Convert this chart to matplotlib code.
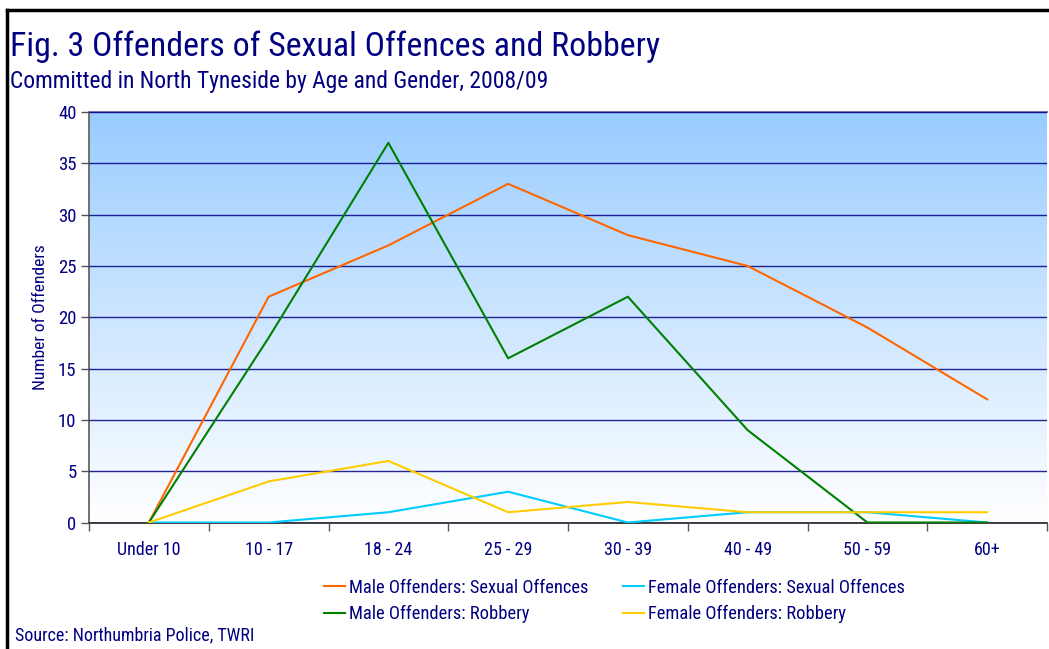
import numpy as np
import matplotlib
matplotlib.use("Agg")
import matplotlib.pyplot as plt
from matplotlib.colors import LinearSegmentedColormap
from matplotlib.lines import Line2D

plt.rcParams['font.family'] = ['Roboto Condensed', 'Liberation Sans', 'DejaVu Sans']

age_groups = ['Under 10', '10 - 17', '18 - 24', '25 - 29', '30 - 39', '40 - 49', '50 - 59', '60+']
male_sexual = [0, 22, 27, 33, 28, 25, 19, 12]
female_sexual = [0, 0, 1, 3, 0, 1, 1, 0]
male_robbery = [0, 18, 37, 16, 22, 9, 0, 0]
female_robbery = [0, 4, 6, 1, 2, 1, 1, 1]

navy = '#000080'

fig = plt.figure(figsize=(10.49, 6.49), dpi=100)
ax = fig.add_axes([89/1049, 1 - 522.5/649, (1047-89)/1049, (522.5-112)/649])

# background gradient: light blue at top fading to white
cmap = LinearSegmentedColormap.from_list('bg', ['#ffffff', '#99ccff'])
grad = np.linspace(0, 1, 256).reshape(-1, 1)
ax.imshow(grad, aspect='auto', cmap=cmap, origin='lower',
          extent=[0, 1, 0, 1], transform=ax.transAxes, zorder=0)

x = np.arange(len(age_groups))
l1, = ax.plot(x, male_sexual, color='#ff6600', lw=1.5, zorder=3)
l2, = ax.plot(x, female_sexual, color='#00ccff', lw=1.5, zorder=3)
l3, = ax.plot(x, male_robbery, color='#008000', lw=1.5, zorder=3)
l4, = ax.plot(x, female_robbery, color='#ffcc00', lw=1.5, zorder=3)

ax.set_xlim(-0.5, len(age_groups) - 0.5)
ax.set_ylim(0, 40)
ax.set_yticks(range(0, 41, 5))
ax.yaxis.grid(True, color=navy, lw=1.0, alpha=0.85)
ax.set_axisbelow(False)
for gl in ax.get_ygridlines():
    gl.set_zorder(1)

ax.set_xticks(x)
ax.set_xticklabels(age_groups)
ax.set_xticks(np.arange(-0.5, len(age_groups)), minor=True)
ax.tick_params(axis='x', which='major', length=0, pad=13, labelsize=13, labelcolor=navy)
ax.tick_params(axis='x', which='minor', length=6, width=1, color='#555555', direction='out')
ax.tick_params(axis='y', length=6, width=1, color='#555555', labelsize=13.5, labelcolor=navy, pad=3)

ax.spines['left'].set_color('#666666')
ax.spines['left'].set_linewidth(1.3)
ax.spines['bottom'].set_color('#333333')
ax.spines['bottom'].set_linewidth(1.3)
ax.spines['top'].set_color('#7777aa')
ax.spines['top'].set_linewidth(1.5)
ax.spines['right'].set_visible(False)

ax.set_ylabel('Number of Offenders', color=navy, fontsize=12.6)
ax.yaxis.set_label_coords(-0.043, 0.5)

fig.text(10/1049, 1 - 56/649, 'Fig. 3 Offenders of Sexual Offences and Robbery',
         color=navy, fontsize=24.4, ha='left', va='baseline')
fig.text(10/1049, 1 - 88/649, 'Committed in North Tyneside by Age and Gender, 2008/09',
         color=navy, fontsize=16.9, ha='left', va='baseline')
fig.text(15/1049, 1 - 640/649, 'Source: Northumbria Police, TWRI',
         color=navy, fontsize=13, ha='left', va='baseline')

leg = fig.legend([l1, l3, l2, l4],
                 ['Male Offenders: Sexual Offences', 'Male Offenders: Robbery',
                  'Female Offenders: Sexual Offences', 'Female Offenders: Robbery'],
                 ncol=2, frameon=False, loc='upper left',
                 bbox_to_anchor=(307/1049, 1 - 562/649),
                 fontsize=13.3, handlelength=1.14, handletextpad=0.25,
                 columnspacing=1.84, labelspacing=0.45)
for t in leg.get_texts():
    t.set_color(navy)

# outer frame on left and top
fig.add_artist(Line2D([7/1049, 7/1049], [0, 1 - 10/649], color='black', lw=2.5, transform=fig.transFigure))
fig.add_artist(Line2D([7/1049, 1], [1 - 10/649, 1 - 10/649], color='black', lw=2.5, transform=fig.transFigure))

fig.savefig('out.png', dpi=100)
